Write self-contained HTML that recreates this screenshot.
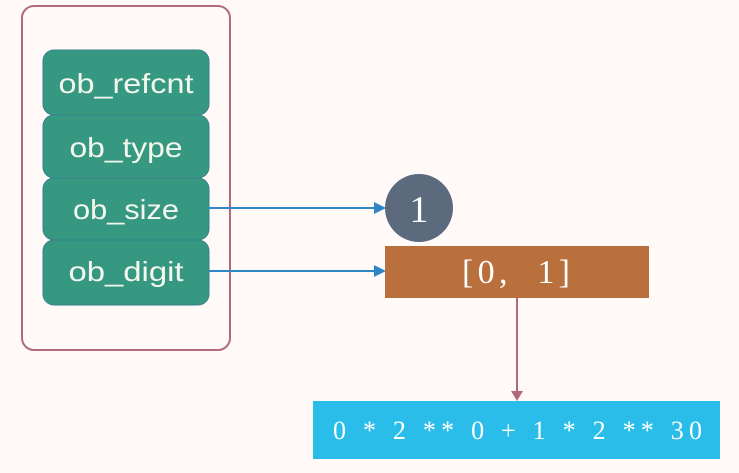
<!DOCTYPE html>
<html><head><style>
body{margin:0;background:#fffaf7;}
svg{display:block}
</style></head><body>
<svg width="739" height="473" viewBox="0 0 739 473" xmlns="http://www.w3.org/2000/svg">
<rect width="739" height="473" fill="#fffaf7"/>
<rect x="22" y="6" width="208" height="344" rx="12" fill="none" stroke="#b06a7e" stroke-width="2"/>
<g fill="#379881" stroke="#3a7f8c" stroke-width="1">
<rect x="43" y="50" width="166" height="65" rx="11"/>
<rect x="43" y="115" width="166" height="63" rx="11"/>
<rect x="43" y="178" width="166" height="62" rx="11"/>
<rect x="43" y="240" width="166" height="65" rx="11"/>
</g>
<g fill="#f4f7ee" font-family="Liberation Sans, sans-serif" font-size="28" text-anchor="middle">
<text x="126" y="93" textLength="135" lengthAdjust="spacingAndGlyphs">ob_refcnt</text>
<text x="126" y="157" textLength="113" lengthAdjust="spacingAndGlyphs">ob_type</text>
<text x="126" y="219" textLength="106" lengthAdjust="spacingAndGlyphs">ob_size</text>
<text x="126" y="281" textLength="115" lengthAdjust="spacingAndGlyphs">ob_digit</text>
</g>
<g stroke="#2f86c6" stroke-width="2">
<line x1="209" y1="208" x2="378" y2="208"/>
<line x1="209" y1="271" x2="378" y2="271"/>
</g>
<g fill="#2f86c6">
<polygon points="386,208 374,202 374,214"/>
<polygon points="386,271 374,265 374,277"/>
</g>
<circle cx="419" cy="208" r="34" fill="#5b6a7d"/>
<text x="419" y="222" fill="#fff" font-family="Liberation Serif, serif" font-size="38" text-anchor="middle">1</text>
<rect x="385" y="246" width="264" height="52" fill="#b9703c"/>
<text x="462" y="283" fill="#fff" font-family="Liberation Serif, serif" font-size="34" textLength="108" lengthAdjust="spacing" xml:space="preserve">[0,  1]</text>
<line x1="517" y1="298" x2="517" y2="392" stroke="#b06a7e" stroke-width="2"/>
<polygon points="517,401 511,391 523,391" fill="#b06a7e"/>
<rect x="313" y="401" width="407" height="58" fill="#2bbde9"/>
<text x="333" y="439" fill="#fff" font-family="Liberation Serif, serif" font-size="26" textLength="369" lengthAdjust="spacing">0 * 2 ** 0 + 1 * 2 ** 30</text>
</svg>
</body></html>
